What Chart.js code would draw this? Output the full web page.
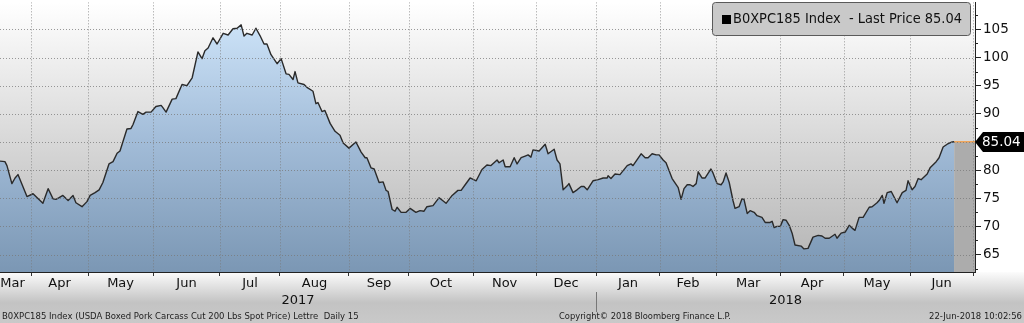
<!doctype html>
<html>
	<head>
		<meta charset="utf-8" />
		<title>B0XPC185 Index | Last Price</title>
		<script src="https://cdn.jsdelivr.net/npm/chart.js@4.4.1/dist/chart.umd.min.js"></script>
		<style>
			html,
			body {
				margin: 0;
				padding: 0;
				background: #fff;
			}
			canvas {
				display: block;
			}
		</style>
	</head>

	<body>
		<canvas id="chartJSContainer" width="1024" height="323"></canvas>

		<script>
			// x = trading-day index (weekdays since mid March 2017), y = last price
			const dayIndex = [
				0.0, 1.7, 2.4, 4.1, 5.2, 6.2, 9.3, 11.4, 14.8, 16.6,
				18.3, 19.3, 20.4, 21.7, 23.5, 25.2, 26.2, 28.3, 30.0, 31.1,
				32.8, 34.2, 35.5, 37.6, 39.0, 40.4, 41.4, 43.8, 45.2, 45.9,
				47.6, 49.3, 50.4, 52.1, 53.8, 55.6, 56.2, 57.3, 59.4, 60.7,
				62.8, 64.5, 66.3, 68.3, 69.7, 70.7, 71.8, 73.5, 74.9, 77.0,
				78.7, 80.4, 81.8, 83.2, 84.2, 85.2, 87.0, 88.3, 89.7, 91.1,
				92.1, 93.5, 95.6, 97.0, 98.7, 99.7, 101.1, 101.8, 102.8, 104.9,
				105.9, 108.0, 109.0, 109.7, 111.1, 112.1, 113.9, 115.6, 117.3, 118.4,
				120.4, 122.8, 124.6, 126.0, 126.6, 128.0, 129.1, 130.8, 132.2, 133.2,
				133.9, 135.3, 136.3, 137.0, 138.4, 140.1, 141.5, 143.5, 144.9, 146.3,
				147.3, 149.4, 151.5, 153.9, 156.0, 158.0, 159.1, 160.5, 162.2, 164.3,
				166.3, 168.0, 169.4, 171.5, 172.2, 173.6, 174.3, 176.0, 177.4, 178.4,
				179.8, 181.2, 182.2, 183.2, 183.9, 186.0, 188.1, 189.1, 191.2, 192.2,
				193.2, 194.3, 195.7, 196.3, 197.7, 199.1, 200.5, 201.5, 202.6, 204.6,
				206.4, 208.1, 209.5, 209.8, 210.8, 212.2, 213.9, 216.4, 217.7, 218.4,
				221.2, 222.6, 223.6, 225.0, 226.4, 227.4, 228.8, 229.8, 231.9, 233.6,
				234.0, 235.0, 236.0, 237.1, 238.1, 239.1, 240.2, 240.9, 242.2, 243.3,
				245.3, 246.0, 247.4, 248.8, 249.5, 250.5, 251.6, 252.9, 253.6, 255.0,
				256.0, 256.7, 257.8, 258.8, 260.2, 261.2, 262.9, 264.0, 265.7, 266.4,
				267.1, 268.1, 269.2, 270.2, 271.2, 272.3, 273.3, 274.3, 276.4, 277.4,
				278.8, 280.5, 282.3, 283.6, 284.7, 286.1, 288.1, 288.8, 290.2, 291.6,
				293.0, 294.0, 295.0, 296.4, 297.8, 299.9, 300.9, 302.6, 303.3, 304.4,
				305.0, 306.1, 307.5, 309.5, 311.3, 312.6, 313.3, 314.7, 315.7, 316.8,
				317.8, 319.9, 320.9, 323.0, 324.0, 325.4, 326.8, 328.5, 329.2,
			];
			const lastPrice = [
				81.6, 81.5, 80.8, 77.6, 78.6, 79.2, 75.3, 75.8, 74.1, 76.7,
				74.9, 74.8, 75.1, 75.5, 74.6, 75.5, 74.2, 73.5, 74.4, 75.5,
				76.0, 76.5, 77.8, 81.1, 81.5, 83.0, 83.4, 87.3, 87.4, 88.1,
				90.4, 89.9, 90.3, 90.3, 91.3, 91.5, 91.1, 90.3, 92.6, 92.7,
				95.2, 95.0, 96.4, 101.0, 99.8, 101.2, 101.7, 103.5, 102.4, 104.3,
				104.0, 105.1, 105.2, 105.8, 103.8, 104.3, 104.0, 105.2, 103.9, 102.4,
				102.4, 100.5, 98.9, 99.8, 97.1, 97.0, 96.1, 97.5, 95.5, 95.2,
				94.7, 94.0, 91.8, 92.0, 90.4, 90.6, 88.3, 86.9, 86.2, 84.8,
				83.9, 85.0, 83.2, 82.2, 82.2, 80.4, 80.2, 77.8, 77.9, 76.4,
				76.2, 73.0, 72.7, 73.4, 72.5, 72.5, 73.2, 72.5, 72.8, 72.7,
				73.5, 73.7, 75.1, 74.1, 75.5, 76.4, 76.4, 77.4, 78.6, 78.1,
				80.1, 80.9, 80.8, 81.8, 81.3, 81.8, 80.6, 80.6, 82.2, 81.1,
				82.2, 82.5, 82.7, 82.3, 83.6, 83.4, 84.6, 82.9, 83.7, 81.8,
				81.1, 76.5, 77.2, 77.6, 76.0, 76.5, 77.1, 77.1, 76.5, 78.1,
				78.3, 78.6, 78.6, 79.0, 78.5, 79.3, 79.2, 80.8, 81.1, 80.8,
				82.9, 82.2, 82.2, 82.9, 82.7, 82.7, 81.8, 81.3, 78.5, 77.2,
				76.9, 74.8, 76.7, 77.4, 77.4, 77.1, 77.6, 79.7, 78.6, 78.6,
				80.2, 79.5, 77.6, 77.4, 77.9, 79.5, 77.8, 74.6, 73.2, 73.5,
				74.9, 74.8, 72.3, 72.8, 72.5, 71.9, 71.6, 70.7, 70.7, 70.9,
				69.8, 70.0, 70.0, 71.2, 71.1, 70.2, 68.8, 66.7, 66.5, 66.0,
				66.1, 68.1, 68.4, 68.3, 67.9, 67.9, 68.6, 67.9, 68.8, 69.0,
				70.2, 69.7, 69.3, 71.6, 71.6, 73.4, 73.5, 74.2, 74.6, 75.5,
				74.1, 76.0, 76.2, 74.2, 76.0, 76.4, 78.1, 76.5, 77.1, 78.5,
				78.3, 79.3, 80.4, 81.5, 82.2, 84.1, 84.6, 85.0, 85.04,
			];
			const lastValue = 85.04;
			const axisEnd = 336.4;

			// month boundaries (trading-day index) and the labels between them
			const monthTicks = [
				10.7, 30.4, 52.8, 75.9, 96.6, 120.4, 141.1, 163.2, 185.0, 205.7,
				227.7, 247.1, 269.2, 291.2, 314.0, 335.8,
			];
			const monthLabels = [
				"Mar", "Apr", "May", "Jun", "Jul", "Aug", "Sep", "Oct", "Nov",
				"Dec", "Jan", "Feb", "Mar", "Apr", "May", "Jun",
			];
			const firstMonthPos = 4.3;
			const yearLabels = ["2017", "2018"];
			const yearBreaks = [0, 205.7, axisEnd];
			const priceTicks = [65, 70, 75, 80, 85, 90, 95, 100, 105];

			const legendText = "B0XPC185 Index  - Last Price 85.04";
			const footerLeft =
				"B0XPC185 Index (USDA Boxed Pork Carcass Cut 200 Lbs Spot Price) Lettre  Daily 15";
			const footerMid = "Copyright\u00A9 2018 Bloomberg Finance L.P.";
			const footerRight = "22-Jun-2018 10:02:56";

			const FONT = "DejaVu Sans";

			const monthLabelPos = [firstMonthPos].concat(
				monthTicks.slice(1).map((t, i) => (t + monthTicks[i]) / 2),
			);

			function areaGradient(context) {
				const { chart } = context;
				const a = chart.chartArea;
				if (!a) return "#a0bad6";
				const g = chart.ctx.createLinearGradient(0, a.top, 0, a.bottom);
				g.addColorStop(0, "#d3e9fd");
				g.addColorStop(0.5, "#a3bdd9");
				g.addColorStop(1, "#7b97b4");
				return g;
			}

			const bbgDecor = {
				id: "bbgDecor",
				beforeDraw(chart) {
					const { ctx, chartArea: a, width, height } = chart;
					ctx.save();
					ctx.fillStyle = "#ffffff";
					ctx.fillRect(0, 0, width, height);

					let g = ctx.createLinearGradient(0, a.top, 0, a.bottom);
					g.addColorStop(0, "#ffffff");
					g.addColorStop(1, "#b3b3b3");
					ctx.fillStyle = g;
					ctx.fillRect(a.left, a.top, a.right - a.left, a.bottom - a.top);

					g = ctx.createLinearGradient(0, a.bottom, 0, height);
					g.addColorStop(0, "#fcfcfc");
					g.addColorStop(0.6, "#c3c3c3");
					g.addColorStop(1, "#c9c9c9");
					ctx.fillStyle = g;
					ctx.fillRect(0, a.bottom, width, height - a.bottom);
					ctx.restore();
				},
				afterDatasetsDraw(chart) {
					// dotted grid sits on top of the filled area, as in the terminal chart
					const { ctx, chartArea: a } = chart;
					const xs = chart.scales.x,
						ys = chart.scales.y;
					ctx.save();
					ctx.beginPath();
					ctx.rect(a.left, a.top, a.right - a.left, a.bottom - a.top);
					ctx.clip();
					ctx.strokeStyle = "rgba(120,120,120,0.75)";
					ctx.lineWidth = 1;
					ctx.setLineDash([1, 2]);
					monthTicks.forEach((t) => {
						const x = Math.round(xs.getPixelForValue(t)) + 0.5;
						ctx.beginPath();
						ctx.moveTo(x, a.top);
						ctx.lineTo(x, a.bottom);
						ctx.stroke();
					});
					priceTicks.forEach((v) => {
						const y = Math.round(ys.getPixelForValue(v)) + 0.5;
						ctx.beginPath();
						ctx.moveTo(a.left, y);
						ctx.lineTo(a.right, y);
						ctx.stroke();
					});
					ctx.restore();
				},
				afterDraw(chart) {
					const { ctx, chartArea: a } = chart;
					const xs = chart.scales.x,
						ys = chart.scales.y;
					ctx.save();

					// minor ticks on the price axis
					ctx.strokeStyle = "#222";
					ctx.lineWidth = 1;
					for (let v = 62.5; v < 110; v += 5) {
						const y = Math.round(ys.getPixelForValue(v)) + 0.5;
						ctx.beginPath();
						ctx.moveTo(a.right, y);
						ctx.lineTo(a.right + 3, y);
						ctx.stroke();
					}

					// month and year labels
					ctx.fillStyle = "#111";
					ctx.textAlign = "center";
					ctx.textBaseline = "middle";
					ctx.font = "13px " + FONT;
					monthLabels.forEach((m, i) => {
						ctx.fillText(m, xs.getPixelForValue(monthLabelPos[i]), a.bottom + 12);
					});
					yearLabels.forEach((yl, i) => {
						const c = (yearBreaks[i] + yearBreaks[i + 1]) / 2;
						ctx.fillText(yl, xs.getPixelForValue(c), a.bottom + 29);
					});
					const sep = Math.round(xs.getPixelForValue(yearBreaks[1])) + 0.5;
					ctx.strokeStyle = "#777";
					ctx.beginPath();
					ctx.moveTo(sep, a.bottom + 20);
					ctx.lineTo(sep, a.bottom + 40);
					ctx.stroke();

					// footer
					ctx.font = "8.5px " + FONT;
					ctx.fillStyle = "#222";
					ctx.textAlign = "left";
					ctx.fillText(footerLeft, 2, 316.5, 360);
					ctx.fillText(footerMid, 559, 316.5, 172);
					ctx.textAlign = "right";
					ctx.fillText(footerRight, 1022, 316.5, 93);

					// legend box
					ctx.beginPath();
					ctx.roundRect(712.5, 2.5, 258, 33, 3);
					ctx.fillStyle = "#c9c9c9";
					ctx.fill();
					ctx.strokeStyle = "#5a5a5a";
					ctx.stroke();
					ctx.fillStyle = "#000";
					ctx.fillRect(722, 15, 9, 9);
					ctx.fillStyle = "#111";
					ctx.textAlign = "left";
					ctx.font = "14px " + FONT;
					ctx.fillText(legendText, 733, 19.5, 229);

					// last price marker
					const ly = Math.round(ys.getPixelForValue(lastValue));
					ctx.beginPath();
					ctx.moveTo(a.right, ly);
					ctx.lineTo(a.right + 8, ly - 10);
					ctx.lineTo(1024, ly - 10);
					ctx.lineTo(1024, ly + 10);
					ctx.lineTo(a.right + 8, ly + 10);
					ctx.closePath();
					ctx.fillStyle = "#000";
					ctx.fill();
					ctx.fillStyle = "#fff";
					ctx.font = "13.5px " + FONT;
					ctx.fillText(lastValue.toFixed(2), a.right + 7, ly + 0.5, 41);
					ctx.restore();
				},
			};

			const configuration = {
				type: "line",
				data: {
					datasets: [
						{
							label: "B0XPC185 Index - Last Price",
							data: dayIndex.map((d, i) => ({ x: d, y: lastPrice[i] })),
							borderColor: "#2a2a2a",
							borderWidth: 1.4,
							borderJoinStyle: "round",
							backgroundColor: areaGradient,
							fill: "start",
							pointRadius: 0,
							tension: 0,
						},
						{
							label: "tail",
							data: [
								{ x: dayIndex[dayIndex.length - 1], y: lastValue },
								{ x: axisEnd, y: lastValue },
							],
							borderColor: "#f0a55a",
							borderWidth: 1.5,
							backgroundColor: "#acacac",
							fill: "start",
							pointRadius: 0,
						},
					],
				},
				options: {
					responsive: false,
					animation: false,
					events: [],
					layout: { padding: 0 },
					plugins: {
						legend: { display: false },
						tooltip: { enabled: false },
					},
					scales: {
						x: {
							type: "linear",
							min: 0,
							max: axisEnd,
							afterBuildTicks: (s) => {
								s.ticks = monthTicks.map((v) => ({ value: v }));
							},
							afterFit: (s) => {
								s.height = 51;
							},
							ticks: { display: false },
							grid: {
								drawOnChartArea: false,
								tickColor: "#333",
								tickLength: 4,
							},
							border: { display: true, color: "#222" },
						},
						y: {
							position: "right",
							min: 61.9,
							max: 109.8,
							afterBuildTicks: (s) => {
								s.ticks = priceTicks.map((v) => ({ value: v }));
							},
							afterFit: (s) => {
								s.width = 49;
							},
							ticks: {
								color: "#111",
								// tiny line height keeps the axis from padding the plot top
								font: { family: FONT, size: 13.5, lineHeight: 0.05 },
								padding: 2,
								callback: (v) => (v === 85 ? "" : String(v)),
							},
							grid: {
								drawOnChartArea: false,
								tickColor: "#222",
								tickLength: 6,
							},
							border: { display: true, color: "#222" },
						},
					},
				},
				plugins: [bbgDecor],
			};

			const ctx = document.getElementById("chartJSContainer").getContext("2d");
			window.testedChart = new Chart(ctx, configuration);
		</script>
	</body>
</html>
